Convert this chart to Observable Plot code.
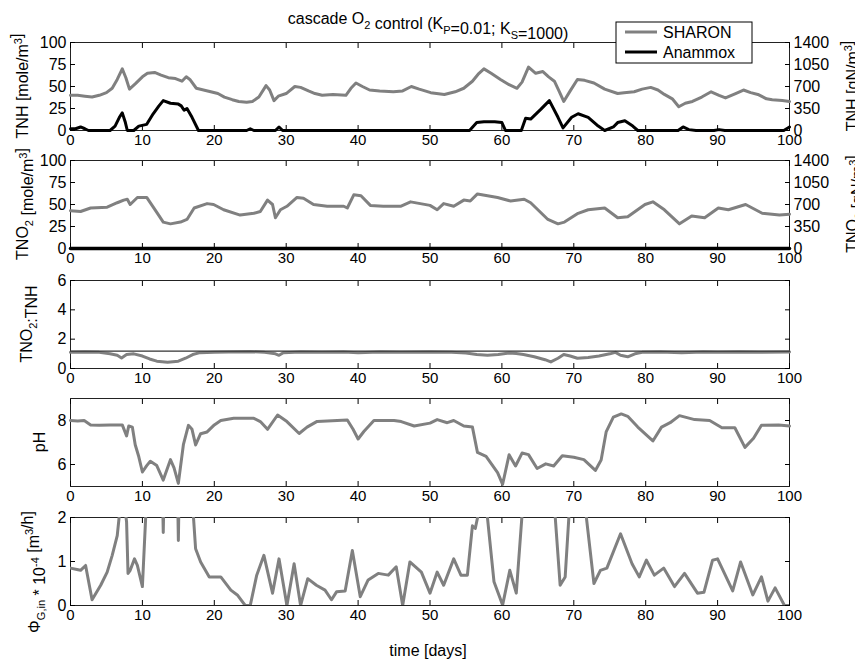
<!DOCTYPE html>
<html><head><meta charset="utf-8">
<script src="https://cdn.jsdelivr.net/npm/d3@7"></script>
<script src="https://cdn.jsdelivr.net/npm/@observablehq/plot@0.6"></script>
<style>
body{margin:0;background:#fff;}
#root{position:relative;width:855px;height:661px;overflow:hidden;background:#fff;font-family:"Liberation Sans",Arial,sans-serif;}
#root svg.panel{position:absolute;left:0;}
#overlay{position:absolute;left:0;top:0;}
</style></head><body><div id="root"></div>
<script>
// ---------- data ----------
const xTicks = [0,10,20,30,40,50,60,70,80,90,100];
const concTicks = [0,25,50,75,100];
const concRightLabels = ["0","350","700","1050","1400"];
const ratioTicks = [0,2,4,6];
const phTicks = [6,8];
const flowTicks = [0,1,2];

// TNH [mole/m3], [day, value]
const sharonTNH = [[0,40],[1,40],[2,39],[3,38],[4,40],[5,43],[5.8,48],[6.5,58],[7.2,70],[7.7,60],[8.2,47],[9,53],[10,61],[10.7,65],[11.7,66],[12.6,63],[13.6,60],[14.6,59],[15.5,56],[16.1,61],[16.6,58],[17.5,48],[18.5,46],[19.5,44],[20.5,42],[21.4,38],[22.5,35],[23.4,33],[24.5,32],[25.3,33],[26.2,38],[27.2,51],[27.7,46],[28.3,34],[28.9,39],[30,42],[31.2,50],[32,49],[33.1,45],[34,42],[35,40],[36.5,41],[38.3,40],[39,48],[39.7,54],[40.6,50],[41.6,46],[43,45],[44.9,44],[46.2,45],[47.4,50],[48.5,47],[50.1,43],[52,41],[53.5,44],[54.7,48],[55.9,56],[56.7,64],[57.5,70],[58.5,65],[59.8,58],[61,52],[62.1,48],[62.8,55],[63.7,72],[64.7,65],[65.7,67],[66.5,61],[67.3,56],[68,44],[68.6,33],[69.5,45],[70.5,58],[71.5,57],[72.8,54],[74.3,47],[76.1,42],[77,43],[78.4,44],[79.5,47],[80.7,49],[81.7,46],[82.6,41],[83.7,36],[84.6,27],[85.5,31],[86.5,33],[87.8,38],[89.1,44],[90.2,40],[91.1,37],[92.5,42],[93.6,46],[94.6,43],[95.6,41],[96.8,36],[97.6,35],[99,34],[100,33]];
const anammoxTNH = [[0,2],[0.7,2],[1.4,4],[2,2],[2.5,0],[5.5,0],[6.2,5],[6.8,15],[7.2,20],[7.6,10],[7.9,0],[8.8,0],[9.5,5],[10.6,7],[11.5,19],[12.3,28],[12.9,34],[13.9,31],[15,30],[15.4,28],[15.8,23],[16.2,25],[16.9,15],[17.8,0],[24.5,0],[25,2],[25.5,0],[28.5,0],[29,4],[29.5,0],[55.5,0],[56.5,9],[57.5,10],[59,10],[60,9],[60.5,0],[62.7,0],[63.3,14],[64,13],[65.4,24],[66.6,34],[67.8,15],[68.5,3],[69.7,15],[70.6,19],[72,15],[73.4,5],[74.3,0],[75.5,4],[76.1,9],[77.1,11],[78.2,5],[78.9,0],[84.5,0],[85.2,4],[86,1],[87,0],[89.5,0],[90.2,1],[91,0],[99.2,0],[100,4]];

// TNO2 [mole/m3]
const sharonTNO2 = [[0,43],[1.4,42],[2.8,46],[5.1,47],[6.5,52],[7.4,55],[7.9,56],[8.3,50],[9.3,58],[10.6,58],[12,41],[12.9,30],[13.9,28],[15.3,30],[16.2,33],[17.2,46],[19,51],[19.9,50],[21.3,44],[23.6,38],[25.5,40],[26.4,42],[27.4,55],[28.1,50],[28.5,35],[29.2,44],[30.1,48],[31.5,58],[32.4,57],[33.8,50],[35.7,48],[38,48],[38.5,46],[39.4,61],[40.4,60],[41.7,49],[43.5,48],[45.9,48],[47.3,53],[50,49],[51,44],[51.9,51],[53.3,48],[54.7,55],[55.6,54],[56.6,62],[59.4,58],[61.2,54],[63.1,56],[64,52],[66.4,33],[67.8,28],[68.7,30],[70.6,40],[72,44],[74.3,46],[76.1,35],[77.5,36],[79.9,50],[81,53],[82.6,44],[84.7,28],[86.4,37],[88.2,35],[90.1,46],[91.5,44],[93.9,50],[96.2,40],[98.6,38],[100,39]];
const anammoxTNO2 = [[0,0],[100,0]];

// TNO2:TNH ratio
const sharonRatio = [[0,1.1],[2,1.12],[4,1.1],[5.5,1.0],[6.5,0.9],[7.1,0.72],[7.8,0.95],[8.8,1.0],[10,0.85],[11,0.65],[12,0.5],[13.5,0.42],[15,0.5],[16,0.7],[17,0.95],[18,1.08],[20,1.1],[22,1.12],[25,1.15],[27,1.1],[28.5,1.0],[29,0.9],[29.6,1.08],[32,1.12],[35,1.1],[38,1.12],[40,1.08],[43,1.12],[46,1.1],[50,1.12],[53,1.1],[55,1.05],[56.5,0.95],[58,0.9],[59.5,0.95],[61,1.05],[62,1.02],[63,0.95],[64.5,0.8],[66,0.6],[66.8,0.45],[67.8,0.7],[68.6,0.95],[69.5,0.85],[70.5,0.7],[72,0.75],[73.5,0.85],[75,1.0],[75.8,1.1],[76.5,0.9],[77.5,0.8],[78.5,1.0],[79.5,1.1],[82,1.12],[85,1.08],[88,1.12],[90,1.1],[93,1.12],[96,1.1],[100,1.12]];
const targetRatio = [[0,1.18],[100,1.18]];

// pH
const sharonPH = [[0,8.0],[1,7.98],[1.9,8.0],[2.8,7.8],[4,7.78],[5.5,7.8],[7.2,7.8],[7.8,7.3],[8.1,7.75],[8.6,7.7],[9,6.9],[9.5,6.35],[10,5.66],[10.6,5.95],[11.1,6.15],[12,5.95],[12.9,5.29],[13.9,6.22],[14.4,5.85],[15,5.14],[15.7,6.9],[16.4,7.78],[16.9,7.6],[17.4,6.89],[18.1,7.4],[19,7.48],[20,7.8],[20.9,8.0],[22.7,8.1],[25.5,8.1],[26.4,7.95],[27.4,7.6],[28.8,8.25],[30.1,7.95],[31.8,7.41],[32.9,7.7],[34.3,7.96],[38.5,8.02],[39.3,7.6],[40,7.16],[40.8,7.5],[42.2,8.0],[45,8.0],[46,7.95],[47.8,7.75],[50,7.88],[51,8.04],[52.4,7.9],[53.3,8.0],[54.7,7.75],[55.9,7.7],[56.6,6.55],[57.8,6.37],[59.4,5.63],[60.1,5.1],[61,6.44],[61.9,5.93],[62.8,6.52],[63.7,6.45],[64.9,5.82],[66.1,6.03],[67.2,5.93],[68.4,6.4],[70,6.33],[71.4,6.22],[73,5.73],[73.8,6.2],[74.5,7.48],[75.5,8.15],[76.6,8.3],[77.5,8.19],[78.9,7.7],[81,7.07],[82.2,7.7],[83.4,7.9],[84.7,8.22],[86.8,8.04],[88.9,8.0],[90.6,7.67],[92.4,7.67],[93.8,6.78],[95,7.19],[96.1,7.78],[98.5,7.8],[100,7.75]];

// Phi_G,in * 1e-4 [m3/h]
const sharonFlow = [[0,0.85],[0.9,0.82],[1.4,0.8],[2.1,0.91],[3,0.13],[4.2,0.46],[5.1,0.76],[5.8,1.14],[6.5,1.59],[6.95,2.3],[7.5,2.3],[7.8,1.9],[8,0.73],[8.3,0.8],[8.9,1.06],[9.3,0.91],[10,0.43],[10.6,2.5],[12.8,2.5],[12.9,1.66],[13.0,2.5],[14.9,2.5],[15,1.48],[15.1,2.5],[16.9,2.5],[17.4,1.29],[18.1,0.99],[19.3,0.65],[20.9,0.65],[22.3,0.35],[23.2,0.24],[24.3,0.0],[25,0],[25.9,0.69],[26.9,1.14],[28.1,0.28],[29,1.06],[30.1,0],[31.1,0.95],[32,0],[33,0.61],[34.2,0.46],[35.4,0.35],[36.3,0.13],[37,0.31],[38.2,0.33],[39.2,1.25],[40.3,0.2],[41.4,0.58],[42.8,0.73],[44.2,0.69],[45.3,0.88],[46.2,0],[47.2,0.99],[48.8,0.76],[50,0.28],[51,0.76],[51.9,0.46],[53.3,1.06],[54.3,0.69],[55.2,0.69],[55.9,1.81],[56.3,1.75],[57,2.3],[57.8,2.3],[58.9,0.54],[60.1,0.01],[61.1,0.8],[62,0.28],[63,2.5],[67.2,2.5],[68.1,0.46],[68.8,0.65],[69.5,2.5],[71.4,2.5],[72.8,0.5],[73.7,0.8],[74.6,0.85],[76.5,1.63],[78.1,0.95],[79.1,0.65],[80.1,1.03],[81.2,0.69],[82.5,0.85],[84,0.43],[85.4,0.73],[87.2,0.28],[88.1,0.3],[89.3,1.03],[90,1.06],[92.1,0.33],[93.2,0.99],[94.9,0.24],[96.1,0.65],[97,0.1],[98,0.4],[99.3,0],[100,0]];

// ---------- layout ----------
const root = document.getElementById("root");
const W = 855, ML = 70, MR = 66, PH = 88, MT = 14, MB = 32;
const GRAY = "#808080", FONT = "Liberation Sans, Arial, Helvetica, sans-serif";

function line(data, color, width, clip) {
  return Plot.line(data, {x: d => d[0], y: d => d[1], stroke: color, strokeWidth: width, strokeLinejoin: "round", strokeLinecap: "round", clip: !!clip});
}

function panel(top, yDomain, yTicks, marks, rightLabels) {
  const p = Plot.plot({
    width: W, height: PH + MT + MB,
    marginLeft: ML, marginRight: MR, marginTop: MT, marginBottom: MB,
    style: {background: "none", overflow: "visible", fontFamily: FONT, color: "#000"},
    x: {domain: [0, 100]},
    y: {domain: yDomain},
    marks: [
      Plot.frame({stroke: "#222", strokeWidth: 1}),
      Plot.axisX({anchor: "bottom", ticks: xTicks, tickSize: -5, tickPadding: 9, label: null, fontSize: 15, tickFormat: d => String(d)}),
      Plot.axisX({anchor: "top", ticks: xTicks, tickSize: -5, tickFormat: () => "", label: null}),
      Plot.axisY({anchor: "left", ticks: yTicks, tickSize: -5, tickPadding: 9, label: null, fontSize: 16, tickFormat: d => String(d)}),
      Plot.axisY({anchor: "right", ticks: yTicks, tickSize: -5, tickPadding: 9, label: null, fontSize: 16,
        tickFormat: rightLabels ? (d => rightLabels[concTicks.indexOf(d)]) : (() => "")}),
      ...marks
    ]
  });
  p.classList.add("panel");
  p.style.top = (top - MT) + "px";
  root.appendChild(p);
}

panel(42, [0, 100], concTicks, [line(sharonTNH, GRAY, 3), line(anammoxTNH, "#000", 3)], concRightLabels);
panel(160, [0, 100], concTicks, [line(sharonTNO2, GRAY, 3), line(anammoxTNO2, "#000", 3.5)], concRightLabels);
panel(280, [0, 6], ratioTicks, [line(sharonRatio, GRAY, 3), line(targetRatio, "#333", 1.2)]);
panel(398, [5, 9], phTicks, [line(sharonPH, GRAY, 3)]);
panel(517, [0, 2], flowTicks, [line(sharonFlow, GRAY, 3, true)]);

// ---------- text overlay: title, axis labels, legend ----------
const sub = (t) => `<tspan dy="5" font-size="11">${t}</tspan><tspan dy="-5"></tspan>`;
const sup = (t) => `<tspan dy="-6" font-size="11">${t}</tspan><tspan dy="6"></tspan>`;
const vlabel = (x, y, html, fs = 16) => `<text transform="translate(${x},${y}) rotate(-90)" text-anchor="middle" font-size="${fs}">${html}</text>`;

const svg = `
<svg id="overlay" width="855" height="661" font-family="${FONT}" fill="#000">
  <text x="428" y="24" text-anchor="middle" font-size="16">cascade O${sub("2")} control (K${sub("P")}=0.01; K${sub("S")}=1000)</text>
  ${vlabel(28, 86, `TNH [mole/m${sup("3")}]`)}
  ${vlabel(28, 204, `TNO${sub("2")} [mole/m${sup("3")}]`)}
  ${vlabel(32, 324, `TNO${sub("2")}:TNH`)}
  ${vlabel(45, 442, `pH`)}
  ${vlabel(40, 572, `Φ${sub("G,in")} * 10${sup("-4")} [m${sup("3")}/h]`)}
  ${vlabel(858, 86, `TNH [gN/m${sup("3")}]`)}
  ${vlabel(858, 204, `TNO${sub("2")} [gN/m${sup("3")}]`)}
  <text x="428" y="656" text-anchor="middle" font-size="16">time [days]</text>
  <rect x="616" y="22" width="136" height="41" fill="#fff" stroke="#000" stroke-width="1"/>
  <line x1="625" x2="657" y1="32" y2="32" stroke="${GRAY}" stroke-width="3"/>
  <line x1="625" x2="657" y1="52" y2="52" stroke="#000" stroke-width="3"/>
  <text x="663" y="38" font-size="16">SHARON</text>
  <text x="663" y="58" font-size="16">Anammox</text>
</svg>`;
root.insertAdjacentHTML("beforeend", svg);
</script>
</body></html>
